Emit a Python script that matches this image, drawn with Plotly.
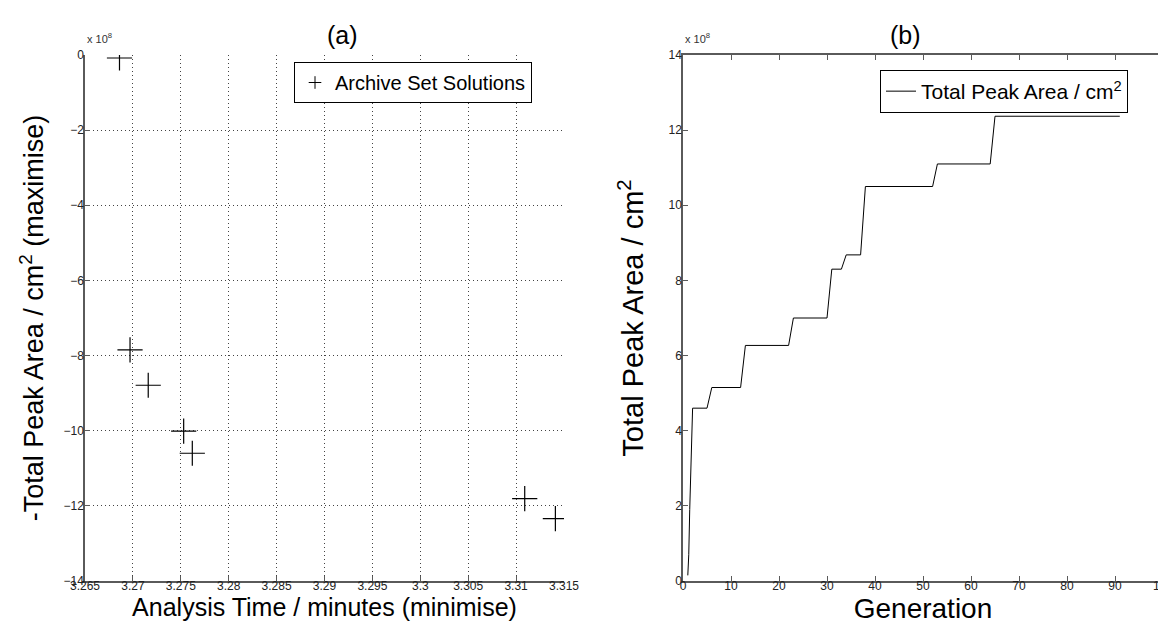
import plotly.graph_objects as go

# (a) archive set solutions: analysis time (min) vs -total peak area (x 1e8 cm^2)
time_min = [3.2686, 3.2697, 3.2716, 3.2753, 3.2762, 3.3109, 3.3141]
neg_area = [-0.08, -7.85, -8.79, -10.01, -10.60, -11.81, -12.34]

# (b) best total peak area (x 1e8 cm^2) per generation
generation = [1, 1.2, 1.4, 1.6, 1.8, 2, 5, 6, 12, 13, 22, 23, 30, 31, 33, 34, 37, 38, 52, 53, 64, 65, 91]
peak_area = [0.15, 0.7, 1.9, 2.95, 4.0, 4.6, 4.6, 5.15, 5.15, 6.27, 6.27, 7.0, 7.0, 8.3, 8.3, 8.68,
             8.68, 10.5, 10.5, 11.1, 11.1, 12.37, 12.37]

x_ticks_a = [3.265, 3.27, 3.275, 3.28, 3.285, 3.29, 3.295, 3.3, 3.305, 3.31, 3.315]
x_labels_a = ["3.265", "3.27", "3.275", "3.28", "3.285", "3.29", "3.295", "3.3", "3.305", "3.31", "3.315"]
y_ticks_a = [0, -2, -4, -6, -8, -10, -12, -14]
x_ticks_b = [0, 10, 20, 30, 40, 50, 60, 70, 80, 90, 100]
y_ticks_b = [0, 2, 4, 6, 8, 10, 12, 14]

W, H = 1166, 625
# plot-area edges in page pixels
L_A, R_A, L_B, R_B, TOP, BOT = 77, 556, 675, 1155, 47, 573
ML, MT = L_A, TOP
MR, MB = W - R_B, H - BOT
PW, PH = W - ML - MR, H - MT - MB
FONT = "Arial, Liberation Sans, sans-serif"
AX = "#5a5a5a"


def px(x):
    return (x - L_A) / PW


def py(y):
    return (BOT - y) / PH


fig = go.Figure()
fig.add_trace(go.Scatter(
    x=time_min, y=neg_area, mode="markers", name="Archive Set Solutions", showlegend=False,
    marker=dict(symbol="cross-thin-open", size=18, color="black", line=dict(color="black", width=1.2)),
    xaxis="x", yaxis="y"))
# legend proxy (small "+" symbol as in the original legend)
fig.add_trace(go.Scatter(
    x=[None], y=[None], mode="markers", name="Archive Set Solutions", showlegend=True,
    marker=dict(symbol="cross-thin-open", size=9, color="black", line=dict(color="black", width=1)),
    xaxis="x", yaxis="y", legend="legend"))
fig.add_trace(go.Scatter(
    x=generation, y=peak_area, mode="lines", name="Total Peak Area / cm<sup>2</sup>", showlegend=True,
    line=dict(color="black", width=1),
    xaxis="x2", yaxis="y2", legend="legend2"))

xd_a = [0, px(R_A)]
xd_b = [px(L_B), 1]

tickfont = dict(family=FONT, size=12, color="#222")
grid = dict(showgrid=True, gridcolor="#444", griddash="1px,3px", gridwidth=1)
common = dict(showline=True, linecolor=AX, linewidth=1.5, ticks="inside", ticklen=5,
              tickcolor=AX, tickfont=tickfont, zeroline=False, automargin=False)

fig.update_layout(
    width=W, height=H, margin=dict(l=ML, r=MR, t=MT, b=MB, autoexpand=False),
    paper_bgcolor="white", plot_bgcolor="white", showlegend=True,
    font=dict(family=FONT, color="black"),
    xaxis=dict(domain=xd_a, range=[3.265, 3.315], tickvals=x_ticks_a, ticktext=x_labels_a,
               anchor="y", ticklabelstandoff=-7, **grid, **common,
               title=dict(text="Analysis Time / minutes (minimise)",
                          font=dict(size=25, family=FONT), standoff=2)),
    yaxis=dict(domain=[0, 1], range=[-14, 0], tickvals=y_ticks_a, anchor="x",
               ticklabelstandoff=-3, **grid, **common,
               title=dict(text="-Total Peak Area / cm<sup>2</sup> (maximise)",
                          font=dict(size=27, family=FONT), standoff=12)),
    xaxis2=dict(domain=xd_b, range=[0, 100], tickvals=x_ticks_b, showgrid=False, mirror="ticks",
                anchor="y2", ticklabelstandoff=-7, **common,
                title=dict(text="Generation", font=dict(size=28, family=FONT), standoff=1)),
    yaxis2=dict(domain=[0, 1], range=[0, 14], tickvals=y_ticks_b, showgrid=False, mirror="ticks",
                anchor="x2", ticklabelstandoff=-3, **common,
                title=dict(text="Total Peak Area / cm<sup>2</sup>",
                           font=dict(size=29, family=FONT), standoff=16)),
    legend=dict(x=px(286), y=py(54), xanchor="left", yanchor="top", visible=True,
                bgcolor="white", bordercolor="black", borderwidth=1,
                font=dict(size=20, family=FONT)),
    legend2=dict(x=px(872), y=py(62), xanchor="left", yanchor="top", visible=True,
                 bgcolor="white", bordercolor="black", borderwidth=1,
                 font=dict(size=21, family=FONT)),
    annotations=[
        dict(text="(a)", x=(xd_a[0] + xd_a[1]) / 2, y=py(27), xref="paper", yref="paper",
             yanchor="middle", showarrow=False, font=dict(size=25, family=FONT)),
        dict(text="(b)", x=(xd_b[0] + xd_b[1]) / 2, y=py(27), xref="paper", yref="paper",
             yanchor="middle", showarrow=False, font=dict(size=25, family=FONT)),
        dict(text="x 10<sup>8</sup>", x=px(77), y=py(39), xref="paper", yref="paper",
             xanchor="left", yanchor="bottom", showarrow=False,
             font=dict(size=11, family=FONT, color="#333")),
        dict(text="x 10<sup>8</sup>", x=px(675), y=py(39), xref="paper", yref="paper",
             xanchor="left", yanchor="bottom", showarrow=False,
             font=dict(size=11, family=FONT, color="#333")),
    ],
)

fig.write_html("out.html")
